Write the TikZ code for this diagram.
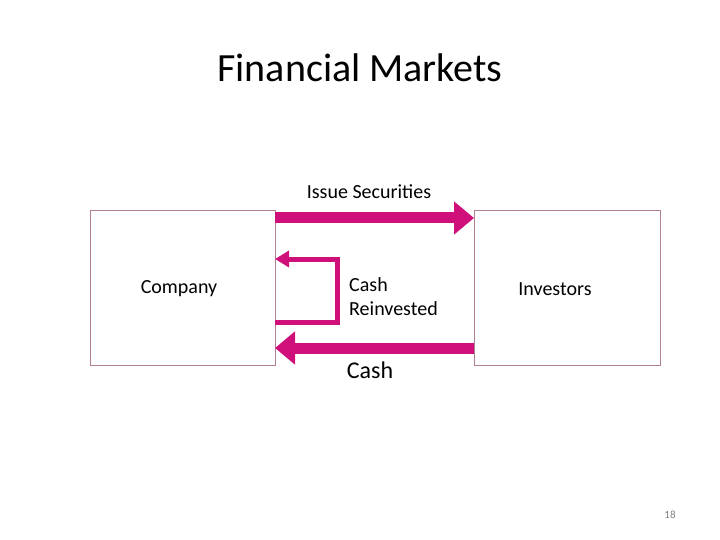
\documentclass[tikz,border=0pt]{standalone}
\usepackage{fontspec}
\setmainfont{Carlito}
\usetikzlibrary{arrows.meta}
\definecolor{mag}{HTML}{D0107A}
\definecolor{boxc}{HTML}{B08090}
\begin{document}
\begin{tikzpicture}[x=1pt,y=-1pt,
  box/.style={draw=boxc,line width=0.8pt},
  lbl/.style={font=\fontsize{20}{24}\selectfont,inner sep=0pt},
  fat/.style={draw=mag,line width=11pt,-{Triangle[length=20pt,width=32pt]}},
  thin/.style={draw=mag,line width=5pt,-{Triangle[length=14pt,width=16pt]}}]
\useasboundingbox (0,0) rectangle (720,540);
\node[inner sep=0pt,font=\fontsize{40}{48}\selectfont] (title) at (360,68) {Financial Markets};
\draw[box] (90,210) rectangle (275,365);
\draw[box] (474,210) rectangle (660,365);
\node[lbl] (comp) at (179,289) {Company};
\node[lbl] (inv) at (555,289) {Investors};
\coordinate (cl1) at (275,218); \coordinate (ir1) at (474,218);
\coordinate (ir2) at (474,348); \coordinate (cl2) at (275,348);
\draw[fat] (cl1) -- (ir1);
\draw[fat] (ir2) -- (cl2);
\coordinate (r1) at (275,322); \coordinate (r2) at (337,322);
\coordinate (r3) at (337,259); \coordinate (r4) at (275,259);
\draw[thin,line join=miter] (r1) -- (r2) -- (r3) -- (r4);
\node[lbl] (iss) at (369,192) {Issue Securities};
\node[lbl,align=left,anchor=west] (cr) at (349,297) {Cash\\Reinvested};
\node[inner sep=0pt,font=\fontsize{24}{28}\selectfont] (cash) at (370,370) {Cash};
\node[inner sep=0pt,font=\fontsize{11}{13}\selectfont,text=gray] (pg) at (670,515) {18};
\end{tikzpicture}
\end{document}
